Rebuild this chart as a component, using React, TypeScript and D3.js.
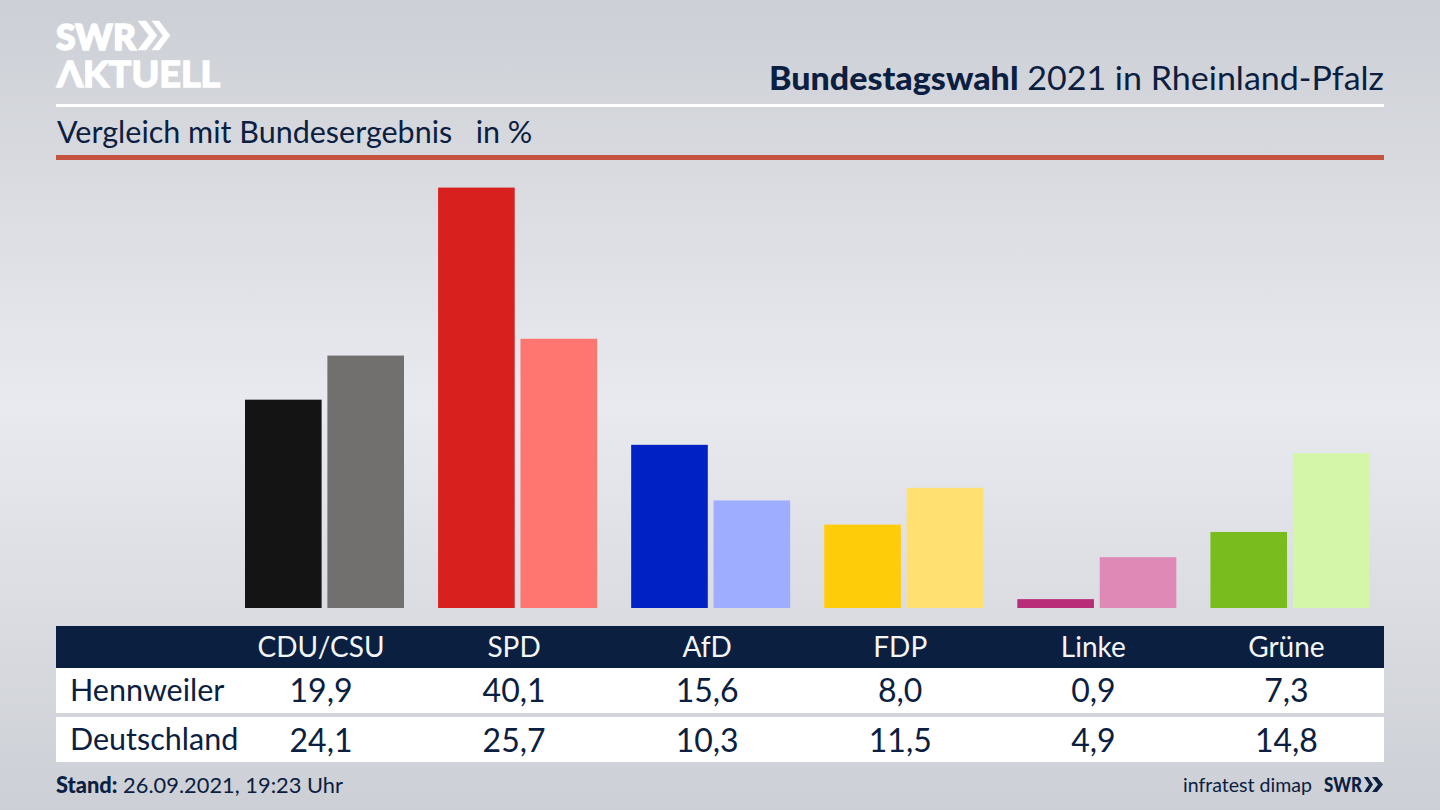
import React from "react";
import * as d3 from "d3";

const parties = ["CDU/CSU", "SPD", "AfD", "FDP", "Linke", "Grüne"];
const hennweiler = [19.9, 40.1, 15.6, 8.0, 0.9, 7.3];
const deutschland = [24.1, 25.7, 10.3, 11.5, 4.9, 14.8];
const darkColors = ["#141414", "#d8201f", "#0021c4", "#ffcc0a", "#b92c78", "#79bc1e"];
const lightColors = ["#72706e", "#ff7570", "#9eadff", "#ffe070", "#df89b6", "#d3f6a8"];
const rowNames = ["Hennweiler", "Deutschland"];

const W = 1440, H = 810;
const NAVY = "#0b2040";
const FONT = "Lato, 'Noto Sans', sans-serif";
const fmt = (v: number) => v.toFixed(1).replace(".", ",");

const band = d3.scaleBand<string>().domain(parties).range([228, 1386.5]).paddingInner(0).paddingOuter(0);
const sub = d3.scaleBand<string>().domain(["a", "b"]).range([17, 176]).paddingInner(0.07);
const y = d3.scaleLinear().domain([0, 40.1]).range([608.6, 187.6]);
const BASE = 608;
const cx = (p: string) => band(p)! + 93;

const T = (p: any) => <text fontFamily={FONT} fill={NAVY} {...p} />;

export default function App() {
  return (
    <svg width={W} height={H} viewBox={`0 0 ${W} ${H}`} style={{ position: "fixed", left: 0, top: 0, display: "block" }}>
      <defs>
        <linearGradient id="bg" x1="0" y1="0" x2="0" y2="1">
          <stop offset="0" stopColor="#cccfd5" />
          <stop offset="0.5" stopColor="#e9eaef" />
          <stop offset="1" stopColor="#cccfd5" />
        </linearGradient>
      </defs>
      <rect width={W} height={H} fill="url(#bg)" />

      {/* logo */}
      <g fill="#ffffff" stroke="#ffffff" strokeWidth={1.6}>
        <text x={56} y={50} fontFamily={FONT} fontWeight={900} fontSize={36} textLength={80} lengthAdjust="spacingAndGlyphs">SWR</text>
        <path d="M138 21 h8 l11 14.5 l-11 14.5 h-8 l11 -14.5 z" strokeWidth={0.5} />
        <path d="M152 21 h7 l11 14.5 l-11 14.5 h-7 l11 -14.5 z" strokeWidth={0.5} />
        <text x={57} y={87} fontFamily={FONT} fontWeight={700} fontSize={36} textLength={163} lengthAdjust="spacingAndGlyphs">ΛKTUELL</text>
      </g>

      <T x={769} y={90} fontSize={33} textLength={615} lengthAdjust="spacingAndGlyphs">
        <tspan fontWeight={900}>Bundestagswahl</tspan> 2021 in Rheinland-Pfalz
      </T>
      <rect x={56} y={104} width={1328} height={3} fill="#fff" />
      <T x={57} y={143} fontSize={30.5} style={{ whiteSpace: "pre" }}>Vergleich mit Bundesergebnis{"   "}in %</T>
      <rect x={56} y={155} width={1328} height={5} fill="#c4533f" />

      {/* bars */}
      {parties.map((p, i) => (
        <g key={p}>
          <rect x={band(p)! + sub("a")!} y={y(hennweiler[i])} width={sub.bandwidth()} height={BASE - y(hennweiler[i])} fill={darkColors[i]} />
          <rect x={band(p)! + sub("b")!} y={y(deutschland[i])} width={sub.bandwidth()} height={BASE - y(deutschland[i])} fill={lightColors[i]} />
        </g>
      ))}

      {/* table */}
      <rect x={56} y={626} width={1328} height={42} fill={NAVY} />
      <rect x={56} y={668} width={1328} height={45} fill="#fff" />
      <rect x={56} y={717} width={1328} height={45} fill="#fff" />
      {parties.map((p, i) => (
        <g key={p} textAnchor="middle">
          <T x={cx(p)} y={657} fontSize={28} fill="#f4f5f7">{p}</T>
          <T x={cx(p)} y={702} fontSize={32}>{fmt(hennweiler[i])}</T>
          <T x={cx(p)} y={751.5} fontSize={32}>{fmt(deutschland[i])}</T>
        </g>
      ))}
      <T x={70} y={701} fontSize={30.5}>{rowNames[0]}</T>
      <T x={70} y={750} fontSize={30.5}>{rowNames[1]}</T>

      {/* footer */}
      <T x={56} y={793} fontSize={22} textLength={287} lengthAdjust="spacingAndGlyphs">
        <tspan fontWeight={900}>Stand:</tspan> 26.09.2021, 19:23 Uhr
      </T>
      <T x={1312} y={792} textAnchor="end" fontSize={20} textLength={129} lengthAdjust="spacingAndGlyphs">infratest dimap</T>
      <T x={1324} y={792} fontSize={21} fontWeight={900} textLength={38} lengthAdjust="spacingAndGlyphs">SWR</T>
      <g fill={NAVY}>
        <path d="M1364 777 h4 l5 7.5 l-5 7.5 h-4 l5 -7.5 z" />
        <path d="M1372 777 h5 l6 7.5 l-6 7.5 h-5 l6 -7.5 z" />
      </g>
    </svg>
  );
}
